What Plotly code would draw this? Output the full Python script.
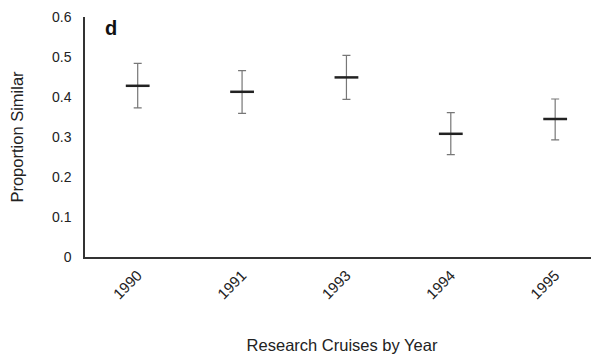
import plotly.graph_objects as go

years = ["1990", "1991", "1993", "1994", "1995"]
means = [0.428, 0.413, 0.449, 0.308, 0.345]
upper = [0.484, 0.466, 0.504, 0.361, 0.395]
lower = [0.373, 0.359, 0.394, 0.256, 0.293]

err_plus = [u - m for u, m in zip(upper, means)]
err_minus = [m - l for m, l in zip(means, lower)]
positions = list(range(len(years)))

fig = go.Figure()
fig.add_trace(go.Scatter(
    x=positions, y=means, mode="markers",
    marker=dict(symbol="line-ew", size=17, line=dict(width=2.5, color="#222")),
    error_y=dict(type="data", symmetric=False, array=err_plus, arrayminus=err_minus,
                 color="#777", thickness=1.2, width=4),
    showlegend=False,
))

font = "Arial, Liberation Sans, sans-serif"
fig.update_layout(
    width=591, height=346,
    margin=dict(l=77, r=0, t=9, b=97),
    paper_bgcolor="white", plot_bgcolor="white",
    font=dict(family=font, size=14, color="#222"),
    xaxis=dict(
        range=[-0.505, 4.42], tickvals=positions, ticktext=years,
        tickangle=-45, showgrid=False, zeroline=False, showline=True,
        linecolor="#333", linewidth=1.5, ticks="", tickfont=dict(size=15),
        ticklabelstandoff=2, automargin=False,
        title=dict(text="Research Cruises by Year", font=dict(size=16.5), standoff=39),
    ),
    yaxis=dict(
        range=[0, 0.6], tickvals=[0, 0.1, 0.2, 0.3, 0.4, 0.5, 0.6],
        ticktext=["0", "0.1", "0.2", "0.3", "0.4", "0.5", "0.6"],
        showgrid=False, zeroline=False, showline=True, linecolor="#333", linewidth=1.5,
        ticks="", ticklabelstandoff=9, tickfont=dict(size=14), automargin=False,
        title=dict(text="Proportion Similar", font=dict(size=16.5), standoff=26),
    ),
    annotations=[dict(text="<b>d</b>", x=0.035, y=1.01, xref="paper", yref="paper",
                      xanchor="left", yanchor="top", showarrow=False,
                      font=dict(size=20, color="#111"))],
)

fig.write_html("out.html")
